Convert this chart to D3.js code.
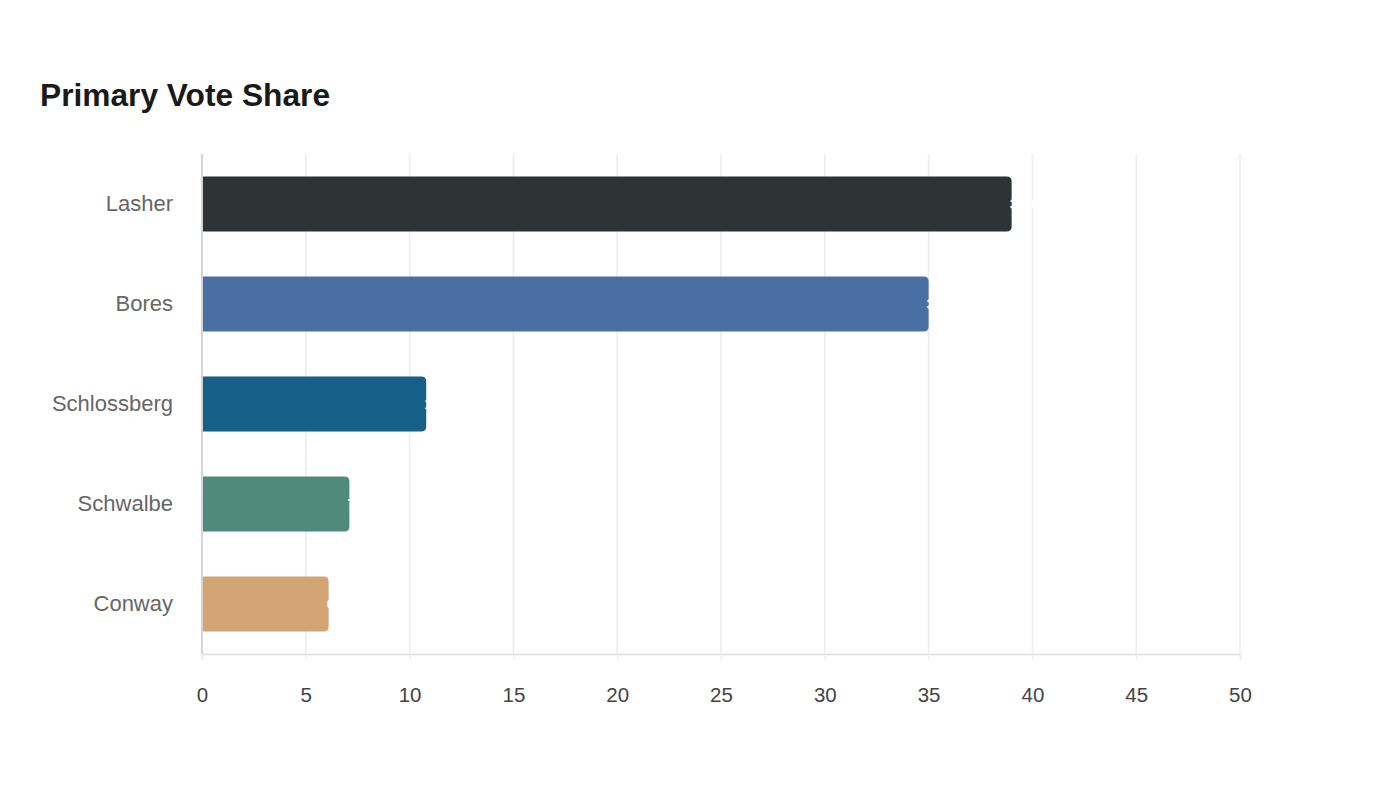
<!DOCTYPE html>
<html>
<head>
<meta charset="utf-8">
<script src="https://cdn.jsdelivr.net/npm/d3@7"></script>
<style>
    body { margin: 0; background: #ffffff; }
    svg { display: block; font-family: "Liberation Sans", Arial, sans-serif; }
</style>
</head>
<body>
<script>
const candidates = ["Lasher", "Bores", "Schlossberg", "Schwalbe", "Conway"];
const voteShare = [39.0, 35.0, 10.8, 7.1, 6.1];
const barColors = ["#2d3436", "#4a6fa5", "#166088", "#4f8a7a", "#d4a574"];
const xTicks = [0, 5, 10, 15, 20, 25, 30, 35, 40, 45, 50];

const width = 1400, height = 800;
const margin = { top: 154, right: 160, bottom: 146, left: 202 };

const svg = d3.select("body")
    .append("svg")
    .attr("width", width)
    .attr("height", height);

svg.append("text")
    .attr("x", 40)
    .attr("y", 106)
    .attr("font-size", 31.7)
    .attr("font-weight", "bold")
    .attr("fill", "#1a1a1a")
    .text("Primary Vote Share");

let x = d3.scaleLinear()
    .domain([0, 50])
    .range([margin.left, width - margin.right]);

let y = d3.scaleBand()
    .domain(candidates)
    .range([margin.top, height - margin.bottom])
    .paddingInner(0.45)
    .paddingOuter(0.225);

// vertical grid
svg.append("g")
    .selectAll("line")
    .data(xTicks.slice(1))
    .enter()
    .append("line")
    .attr("x1", d => x(d)).attr("x2", d => x(d))
    .attr("y1", margin.top).attr("y2", height - margin.bottom)
    .attr("stroke", "#ececec")
    .attr("stroke-width", 1.5);

// bottom axis
let xAxis = svg.append("g")
    .attr("transform", "translate(0," + (height - margin.bottom) + ")")
    .call(d3.axisBottom(x).tickValues(xTicks).tickSize(6).tickPadding(27));
xAxis.select(".domain").attr("stroke", "#dddddd").attr("stroke-width", 1.5);
xAxis.selectAll(".tick line").attr("stroke", "#eeeeee").attr("stroke-width", 1.5);
xAxis.selectAll(".tick text")
    .attr("font-size", 20.5)
    .attr("font-family", '"Liberation Sans", Arial, sans-serif')
    .attr("fill", "#444444");

// left axis line
svg.append("line")
    .attr("x1", margin.left).attr("x2", margin.left)
    .attr("y1", margin.top).attr("y2", height - margin.bottom)
    .attr("stroke", "#d4d4d4")
    .attr("stroke-width", 2);

// category labels
svg.append("g")
    .selectAll("text")
    .data(candidates)
    .enter()
    .append("text")
    .attr("x", margin.left - 29)
    .attr("y", d => y(d) + y.bandwidth() / 2 - 1)
    .attr("dy", "0.35em")
    .attr("text-anchor", "end")
    .attr("font-size", 22)
    .attr("fill", "#666666")
    .text(d => d);

// bars, square on the left and rounded on the right
function barPath(x0, x1, y0, h, r) {
    return "M" + x0 + "," + y0 +
        "H" + (x1 - r) +
        "Q" + x1 + "," + y0 + " " + x1 + "," + (y0 + r) +
        "V" + (y0 + h - r) +
        "Q" + x1 + "," + (y0 + h) + " " + (x1 - r) + "," + (y0 + h) +
        "H" + x0 + "Z";
}

svg.append("g")
    .selectAll("path")
    .data(candidates)
    .enter()
    .append("path")
    .attr("d", (d, i) => barPath(x(0) + 1, x(voteShare[i]), y(d), y.bandwidth(), 5))
    .attr("fill", (d, i) => barColors[i]);

// value labels in white, sitting just past the bar end
svg.append("g")
    .selectAll("text")
    .data(candidates)
    .enter()
    .append("text")
    .attr("x", (d, i) => x(voteShare[i]) - 2)
    .attr("y", d => y(d) + y.bandwidth() / 2)
    .attr("dy", "0.35em")
    .attr("font-size", 15)
    .attr("font-weight", "bold")
    .attr("fill", "#ffffff")
    .text((d, i) => voteShare[i].toFixed(1) + "%");
</script>
</body>
</html>
